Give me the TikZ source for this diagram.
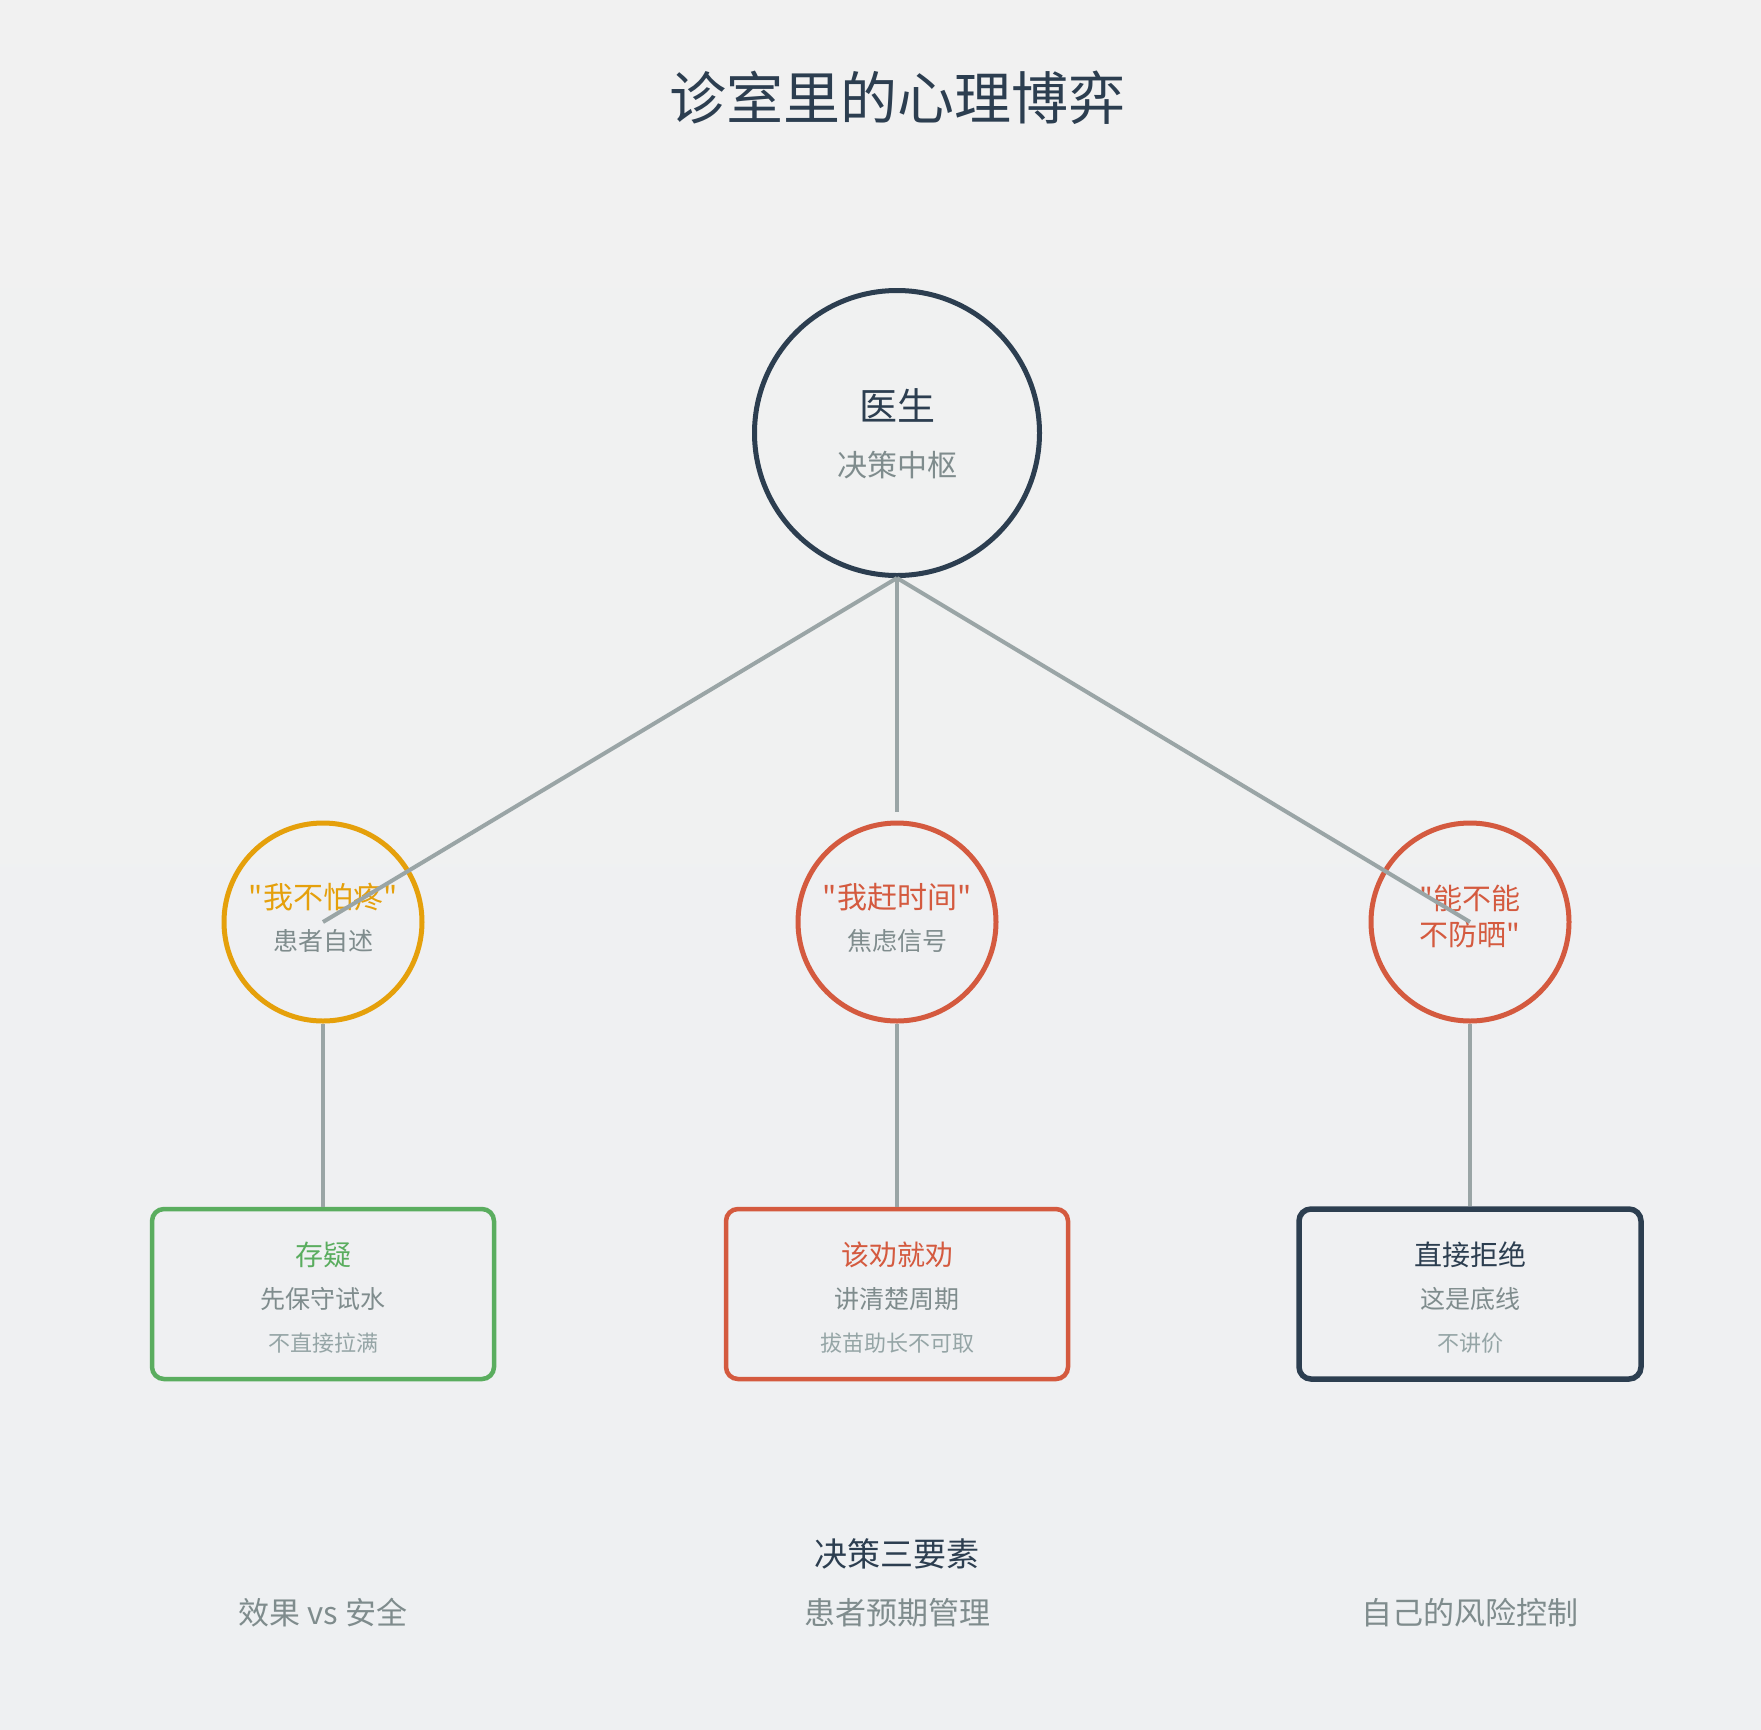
\documentclass[tikz,border=0pt]{standalone}
\usepackage{fontspec}
\setmainfont{Noto Sans CJK SC}[Ligatures=TeXOff]
\usetikzlibrary{positioning}
\definecolor{navy}{HTML}{2C3E50}
\definecolor{txtgray}{HTML}{7F8C8D}
\definecolor{ltgray}{HTML}{95A5A6}
\definecolor{linegray}{HTML}{9AA5A6}
\definecolor{orng}{HTML}{E5A00B}
\definecolor{redd}{HTML}{D45A3F}
\definecolor{grn}{HTML}{5AAD5F}
\definecolor{bgtop}{HTML}{F1F1F1}
\definecolor{bgbot}{HTML}{EEF0F2}
\tikzset{
  ring/.style={circle,draw=#1,line width=5pt,minimum size=198pt,inner sep=0pt},
  card/.style={rectangle,rounded corners=12pt,draw=#1,line width=4.5pt,minimum width=342pt,minimum height=170pt,inner sep=0pt},
  conn/.style={draw=linegray,line width=4pt},
  fs/.style={font=\fontsize{#1}{#1}\selectfont,inner sep=0pt,anchor=center},
}
\begin{document}
\begin{tikzpicture}[x=1pt,y=-1pt]
\shade[top color=bgtop,bottom color=bgbot] (0,0) rectangle (1761,1729);
\useasboundingbox (0,0) rectangle (1761,1729);
% title
\node[fs=57,text=navy] (title) at (897,98) {诊室里的心理博弈};
% top circle
\node[ring=navy,minimum size=285pt] (doc) at (897,433) {};
\node[fs=38,text=navy] (doct) at (897,405) {医生};
\node[fs=30,text=txtgray] (docs) at (897,465) {决策中枢};
% middle circles
\node[ring=orng] (c1) at (323,922) {};
\node[ring=redd] (c2) at (897,922) {};
\node[ring=redd] (c3) at (1470,922) {};
\node[fs=30,text=orng] (c1t) at (323,897) {"我不怕疼"};
\node[fs=25,text=txtgray] (c1s) at (323,941) {患者自述};
\node[fs=30,text=redd] (c2t) at (897,897) {"我赶时间"};
\node[fs=25,text=txtgray] (c2s) at (897,941) {焦虑信号};
\node[fs=29,text=redd] (c3t) at (1470,898) {"能不能};
\node[fs=29,text=redd] (c3u) at (1470,935) {不防晒"};
% cards
\node[card=grn] (b1) at (323,1294) {};
\node[card=redd] (b2) at (897,1294) {};
\node[card=navy,line width=5.5pt] (b3) at (1470,1294) {};
\node[fs=28,text=grn] (b1t) at (323,1255) {存疑};
\node[fs=25,text=txtgray] (b1s) at (323,1299) {先保守试水};
\node[fs=22,text=ltgray] (b1u) at (323,1343) {不直接拉满};
\node[fs=28,text=redd] (b2t) at (897,1255) {该劝就劝};
\node[fs=25,text=txtgray] (b2s) at (897,1299) {讲清楚周期};
\node[fs=22,text=ltgray] (b2u) at (897,1343) {拔苗助长不可取};
\node[fs=28,text=navy] (b3t) at (1470,1255) {直接拒绝};
\node[fs=25,text=txtgray] (b3s) at (1470,1299) {这是底线};
\node[fs=22,text=ltgray] (b3u) at (1470,1343) {不讲价};
% bottom
\node[fs=33,text=navy] (sum) at (897,1554) {决策三要素};
\node[fs=31,text=txtgray] (k1) at (323,1613) {效果 vs 安全};
\node[fs=31,text=txtgray] (k2) at (897,1613) {患者预期管理};
\node[fs=31,text=txtgray] (k3) at (1470,1613) {自己的风险控制};
% connectors
\coordinate (midend) at (897,812);
\path[conn] (doc.south) -- (c1.center);
\path[conn] (doc.south) -- (midend);
\path[conn] (doc.south) -- (c3.center);
\path[conn] (c1.south) -- (b1.north);
\path[conn] (c2.south) -- (b2.north);
\path[conn] (c3.south) -- (b3.north);
\end{tikzpicture}
\end{document}
